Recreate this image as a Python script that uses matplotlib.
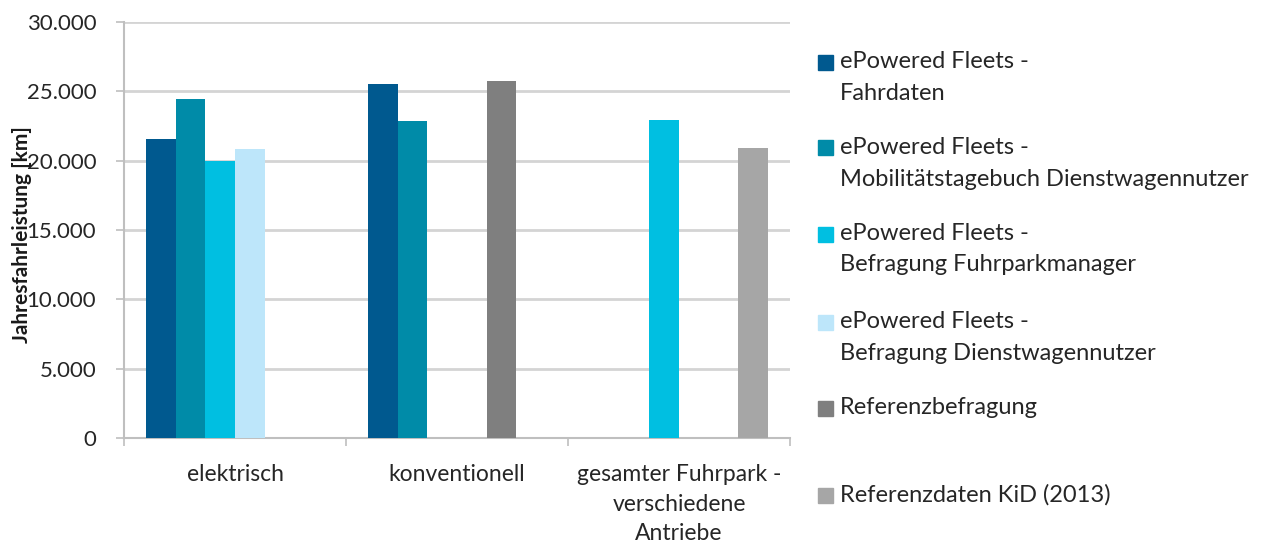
import matplotlib
matplotlib.use("Agg")
import matplotlib.pyplot as plt
from matplotlib.patches import Rectangle
from matplotlib.ticker import FuncFormatter
import numpy as np

plt.rcParams['font.family'] = ['Lato', 'DejaVu Sans']

categories = ["elektrisch", "konventionell", "gesamter Fuhrpark -\nverschiedene\nAntriebe"]
series_names = [
    "ePowered Fleets -\nFahrdaten",
    "ePowered Fleets -\nMobilitätstagebuch Dienstwagennutzer",
    "ePowered Fleets -\nBefragung Fuhrparkmanager",
    "ePowered Fleets -\nBefragung Dienstwagennutzer",
    "Referenzbefragung",
    "Referenzdaten KiD (2013)",
]
nan = np.nan
fahrdaten = [21550, 25550, nan]
mobilitaet = [24450, 22850, nan]
fuhrparkmanager = [20000, nan, 22900]
dienstwagennutzer = [20850, nan, nan]
referenzbefragung = [nan, 25750, nan]
kid_2013 = [nan, nan, 20900]
values = [fahrdaten, mobilitaet, fuhrparkmanager, dienstwagennutzer, referenzbefragung, kid_2013]
colors = ["#00598F", "#008BA8", "#00BFE1", "#BDE6FA", "#7F7F7F", "#A6A6A6"]

W, H = 1261, 548
fig = plt.figure(figsize=(W / 100, H / 100), dpi=100)
ax = fig.add_axes([124 / W, 1 - 438 / H, (790 - 124) / W, (438 - 22) / H])

x = np.arange(len(categories))
bw = 0.8 / len(values)
for i, (vals, c) in enumerate(zip(values, colors)):
    ax.bar(x - 0.4 + (i + 0.5) * bw, vals, width=bw, color=c, zorder=3)

ax.set_xlim(-0.5, len(categories) - 0.5)
ax.set_ylim(0, 30000)
ax.set_yticks(np.arange(0, 30001, 5000))
ax.yaxis.set_major_formatter(FuncFormatter(lambda v, p: f"{int(v):,}".replace(",", ".")))
ax.grid(axis="y", color="#D4D4D4", linewidth=2, zorder=0)

ax.set_xticks(np.arange(len(categories) + 1) - 0.5)
ax.set_xticklabels([])
ax.set_xticks(x, minor=True)
ax.set_xticklabels(categories, minor=True, fontsize=16.5, color="#262626", linespacing=1.5)
ax.tick_params(axis="x", which="major", length=6, width=1.2, color="#BFBFBF")
ax.tick_params(axis="x", which="minor", length=0, pad=19)
ax.tick_params(axis="y", length=6, width=1.2, color="#BFBFBF", labelsize=16, labelcolor="#262626", pad=14)

for s in ["top", "right"]:
    ax.spines[s].set_visible(False)
for s in ["left", "bottom"]:
    ax.spines[s].set_color("#BFBFBF")
    ax.spines[s].set_linewidth(1.5)

ax.set_ylabel("Jahresfahrleistung [km]", fontsize=15, fontweight="bold", color="#1a1a1a")
ax.yaxis.set_label_coords(-0.138, 0.49)

# legend
legend_y = [62, 148, 234, 322, 408, 495]
for name, c, yy in zip(series_names, colors, legend_y):
    fig.patches.append(Rectangle((818 / W, 1 - (yy + 7.5) / H), 15 / W, 15 / H,
                                 transform=fig.transFigure, color=c, figure=fig))
    lines = name.split("\n")
    for k, line in enumerate(lines):
        fig.text(840 / W, 1 - (yy + 31 * k) / H, line, fontsize=17, color="#262626", va="center")

fig.savefig("out.png", dpi=100)
